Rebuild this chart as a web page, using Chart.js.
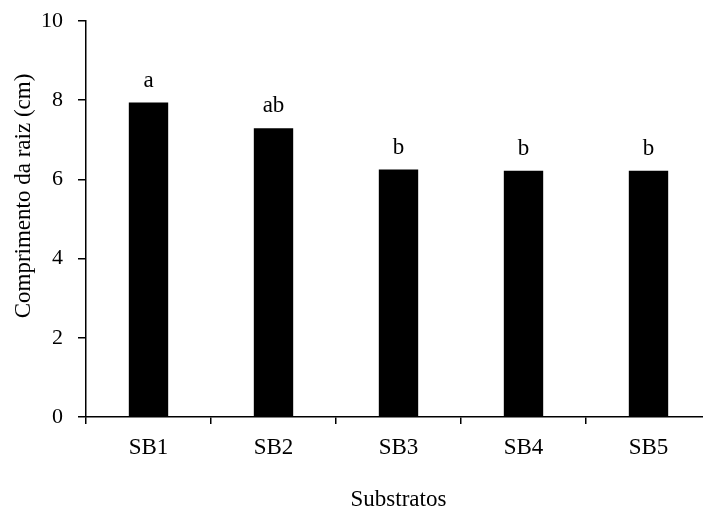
<!DOCTYPE html>
<html>
<head>
<meta charset="utf-8">
<script src="https://cdn.jsdelivr.net/npm/chart.js@4"></script>
<style>
  html, body { margin: 0; padding: 0; background: #fff; overflow: hidden; }
  #wrap { width: 722px; height: 511px; }
</style>
</head>
<body>
<div id="wrap"><canvas id="chart" width="722" height="511"></canvas></div>
<script>
// ---------------- DATA ----------------
const categories = ["SB1", "SB2", "SB3", "SB4", "SB5"];
const rootLength = [7.94, 7.29, 6.25, 6.22, 6.22];
const letters = ["a", "ab", "b", "b", "b"];
const yTicks = [0, 2, 4, 6, 8, 10];
const yTitle = "Comprimento da raiz (cm)";

const FONT = "'Liberation Serif', 'Times New Roman', serif";

// letters above the bars + y title (sits a bit above centre in the original)
const letterPlugin = {
    id: "letters",
    afterDatasetsDraw(chart) {
        const ctx = chart.ctx;
        const meta = chart.getDatasetMeta(0);
        ctx.save();
        ctx.fillStyle = "#000";
        ctx.font = "23px " + FONT;
        ctx.textAlign = "center";
        ctx.textBaseline = "alphabetic";
        meta.data.forEach((bar, i) => {
            ctx.fillText(letters[i], bar.x, bar.y - 16);
        });
        // y axis title
        ctx.translate(24, (chart.chartArea.top + chart.chartArea.bottom) / 2 - 23);
        ctx.rotate(-Math.PI / 2);
        ctx.textBaseline = "middle";
        ctx.fillText(yTitle, 0, 0);
        ctx.restore();
    }
};

// ---------------- CHART ----------------
function initChart() {
    const ctx = document.getElementById("chart").getContext("2d");
    new Chart(ctx, {
        type: "bar",
        data: {
            labels: categories,
            datasets: [{
                data: rootLength,
                backgroundColor: "#000",
                borderWidth: 0,
                barPercentage: 0.315,
                categoryPercentage: 1
            }]
        },
        options: {
            responsive: false,
            animation: false,
            layout: { padding: { top: 21, right: 11, left: 0, bottom: 0 } },
            plugins: { legend: { display: false }, tooltip: { enabled: false } },
            scales: {
                x: {
                    offset: true,
                    grid: { offset: true, drawOnChartArea: false, drawTicks: true, tickLength: 7, color: "#000", lineWidth: 1.5 },
                    border: { display: true, color: "#000", width: 1.5 },
                    ticks: { color: "#000", font: { family: FONT, size: 23 }, padding: 10, maxRotation: 0 },
                    title: { display: true, text: "Substratos", color: "#000", font: { family: FONT, size: 23 }, padding: { top: 0, bottom: -3 } },
                    afterFit(scale) {
                        scale.height = 511 - 417;
                        scale.paddingLeft = 0;
                        scale.paddingRight = 0;
                    }
                },
                y: {
                    min: 0,
                    max: 10,
                    afterBuildTicks(scale) { scale.ticks = yTicks.map(v => ({ value: v })); },
                    grid: { drawOnChartArea: false, drawTicks: true, tickLength: 8, color: "#000", lineWidth: 1.5 },
                    border: { display: true, color: "#000", width: 1.5 },
                    ticks: { color: "#000", font: { family: FONT, size: 22 }, padding: 15 },
                    title: { display: false },
                    afterFit(scale) {
                        scale.width = 86;
                        scale.paddingTop = 0;
                        scale.paddingBottom = 0;
                    }
                }
            }
        },
        plugins: [letterPlugin]
    });
}

window.onload = initChart;
</script>
</body>
</html>
